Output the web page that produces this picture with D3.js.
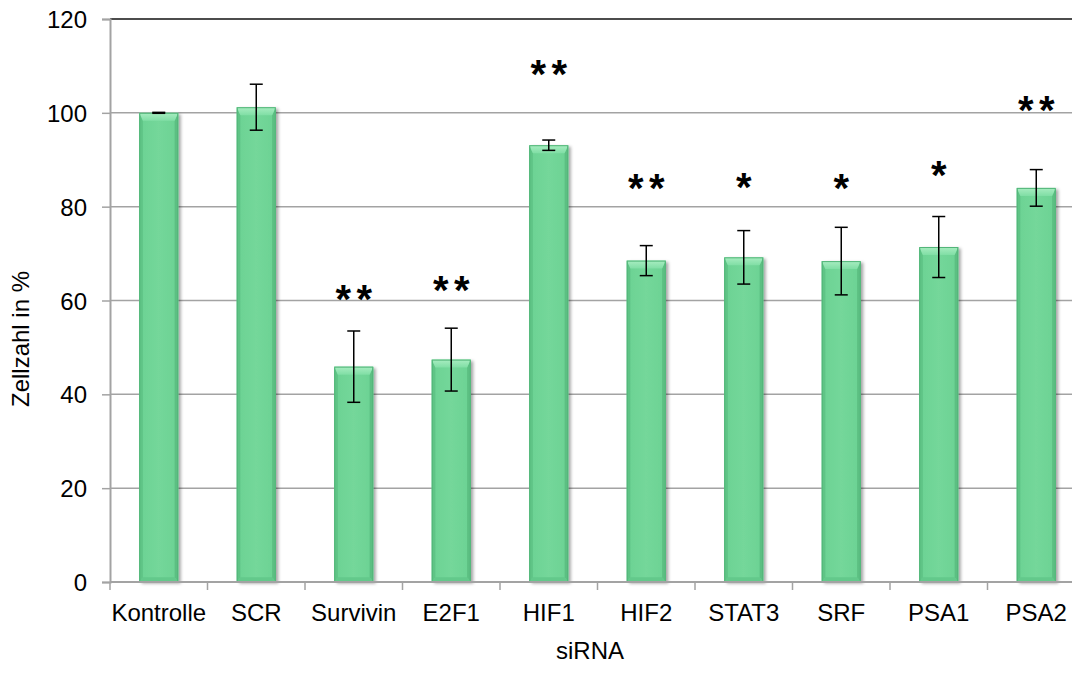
<!DOCTYPE html>
<html>
<head>
<meta charset="utf-8">
<script src="https://cdn.jsdelivr.net/npm/d3@7/dist/d3.min.js"></script>
<style>
  html, body { margin: 0; padding: 0; background: #fff; }
  svg { display: block; }
  text { font-family: "Liberation Sans", Arial, sans-serif; fill: #000; }
</style>
</head>
<body>
<svg id="chart" width="1072" height="677"></svg>
<script>
// siRNA knockdown: relative cell count (%) with SD error bars and significance marks
const categories = ["Kontrolle", "SCR", "Survivin", "E2F1", "HIF1", "HIF2", "STAT3", "SRF", "PSA1", "PSA2"];
const cellCount  = [100, 101.2, 45.9, 47.4, 93.1, 68.5, 69.2, 68.4, 71.4, 84.0];
const errorSD    = [0.1, 4.9, 7.6, 6.7, 1.1, 3.2, 5.7, 7.2, 6.5, 3.9];
const significance = ["", "", "**", "**", "**", "**", "*", "*", "*", "**"];
// height (in % units) at which each significance mark is set
const markLevel  = [null, null, 61.4, 63.3, 109.2, 85.1, 85.3, 84.9, 87.8, 101.7];
const yTicks = [0, 20, 40, 60, 80, 100, 120];
const xTitle = "siRNA";
const yTitle = "Zellzahl in %";

const FONT = "'Liberation Sans', Arial, sans-serif";
const svg = d3.select("#chart");
const plot = { left: 110, right: 1085, top: 19, bottom: 582 };

const x = d3.scaleBand()
  .domain(categories)
  .range([plot.left, plot.right])
  .paddingInner(0.6)
  .paddingOuter(0.3);

const y = d3.scaleLinear()
  .domain([0, 120])
  .range([plot.bottom, plot.top]);

// definitions: shadow and bevel gradients for the bars
const defs = svg.append("defs");
const shadow = defs.append("filter").attr("id", "barShadow")
  .attr("x", "-20%").attr("y", "-5%").attr("width", "150%").attr("height", "115%");
shadow.append("feDropShadow")
  .attr("dx", 2.5).attr("dy", 1.5).attr("stdDeviation", 1.6)
  .attr("flood-color", "#000").attr("flood-opacity", 0.35);

const bodyGrad = defs.append("linearGradient").attr("id", "barBody")
  .attr("x1", "0%").attr("x2", "100%").attr("y1", "0%").attr("y2", "0%");
bodyGrad.append("stop").attr("offset", "0%").attr("stop-color", "#6bd293");
bodyGrad.append("stop").attr("offset", "50%").attr("stop-color", "#74d79a");
bodyGrad.append("stop").attr("offset", "100%").attr("stop-color", "#6bd293");

const topGrad = defs.append("linearGradient").attr("id", "barTop")
  .attr("x1", "0%").attr("x2", "0%").attr("y1", "0%").attr("y2", "100%");
topGrad.append("stop").attr("offset", "0%").attr("stop-color", "#a8edc1");
topGrad.append("stop").attr("offset", "100%").attr("stop-color", "#80dea5");

// gridlines
svg.append("g")
  .selectAll("line")
  .data(yTicks.filter(t => t > 0 && t < 120))
  .join("line")
  .attr("x1", plot.left).attr("x2", plot.right)
  .attr("y1", d => y(d)).attr("y2", d => y(d))
  .attr("stroke", "#a3a3a3").attr("stroke-width", 1.5);

// top border of the plot area
svg.append("line")
  .attr("x1", plot.left).attr("x2", plot.right)
  .attr("y1", y(120)).attr("y2", y(120))
  .attr("stroke", "#111").attr("stroke-width", 1.5);

// y axis
const yAxis = svg.append("g")
  .attr("transform", `translate(${plot.left},0)`)
  .call(d3.axisLeft(y).tickValues(yTicks).tickSize(8).tickPadding(15));
yAxis.select(".domain").attr("stroke", "#a3a3a3").attr("stroke-width", 2);
yAxis.selectAll(".tick line").attr("stroke", "#a3a3a3").attr("stroke-width", 1.5);
yAxis.selectAll(".tick text")
  .style("font-family", FONT).style("font-size", "24px").attr("fill", "#000")
  .attr("dy", "0.36em");

// x axis: category labels, ticks sit between categories
const xAxis = svg.append("g")
  .attr("transform", `translate(0,${plot.bottom})`)
  .call(d3.axisBottom(x).tickSize(0).tickPadding(22));
xAxis.select(".domain").remove();
xAxis.selectAll(".tick text")
  .style("font-family", FONT).style("font-size", "24px").attr("fill", "#000");

const step = x.step();
const boundaries = d3.range(categories.length + 1).map(i => plot.left + i * step);

// bars with bevelled edges
const bevel = 8;
const bars = svg.append("g").selectAll("g")
  .data(categories.map((c, i) => ({ c, v: cellCount[i], e: errorSD[i], s: significance[i], m: markLevel[i] })))
  .join("g");

bars.append("rect")
  .attr("x", d => x(d.c)).attr("y", d => y(d.v))
  .attr("width", x.bandwidth()).attr("height", d => y(0) - y(d.v))
  .attr("fill", "url(#barBody)")
  .attr("filter", "url(#barShadow)");

// left and right bevel strips
bars.append("path")
  .attr("d", d => {
    const x0 = x(d.c), y0 = y(d.v), y1 = y(0);
    return `M${x0},${y0} L${x0 + bevel * 0.45},${y0 + bevel} L${x0 + bevel * 0.45},${y1 - bevel * 0.6} L${x0},${y1} Z`;
  })
  .attr("fill", "#5fc486");
bars.append("path")
  .attr("d", d => {
    const x1 = x(d.c) + x.bandwidth(), y0 = y(d.v), y1 = y(0);
    return `M${x1},${y0} L${x1 - bevel * 0.45},${y0 + bevel} L${x1 - bevel * 0.45},${y1 - bevel * 0.6} L${x1},${y1} Z`;
  })
  .attr("fill", "#5cbf82");
// bottom bevel
bars.append("path")
  .attr("d", d => {
    const x0 = x(d.c), x1 = x0 + x.bandwidth(), y1 = y(0);
    return `M${x0},${y1} L${x0 + bevel * 0.45},${y1 - bevel * 0.6} L${x1 - bevel * 0.45},${y1 - bevel * 0.6} L${x1},${y1} Z`;
  })
  .attr("fill", "#63c98b");
// top bevel
bars.append("path")
  .attr("d", d => {
    const x0 = x(d.c), x1 = x0 + x.bandwidth(), y0 = y(d.v);
    return `M${x0},${y0} L${x1},${y0} L${x1 - bevel * 0.45},${y0 + bevel} L${x0 + bevel * 0.45},${y0 + bevel} Z`;
  })
  .attr("fill", "url(#barTop)");
// thin outline
bars.append("rect")
  .attr("x", d => x(d.c) + 0.5).attr("y", d => y(d.v) + 0.5)
  .attr("width", x.bandwidth() - 1).attr("height", d => y(0) - y(d.v) - 1)
  .attr("fill", "none").attr("stroke", "#52b578").attr("stroke-width", 1);

// x axis line and boundary ticks drawn over the bar bases
svg.append("line")
  .attr("x1", plot.left).attr("x2", plot.right)
  .attr("y1", plot.bottom).attr("y2", plot.bottom)
  .attr("stroke", "#a3a3a3").attr("stroke-width", 2);
svg.append("g").selectAll("line")
  .data(boundaries)
  .join("line")
  .attr("x1", d => d).attr("x2", d => d)
  .attr("y1", plot.bottom).attr("y2", plot.bottom + 8)
  .attr("stroke", "#a3a3a3").attr("stroke-width", 1.5);

// error bars
const cap = 6.5;
const err = svg.append("g").selectAll("g").data(bars.data()).join("g")
  .attr("stroke", "#000").attr("stroke-width", 1.5);
err.append("line")
  .attr("x1", d => x(d.c) + x.bandwidth() / 2).attr("x2", d => x(d.c) + x.bandwidth() / 2)
  .attr("y1", d => y(d.v + d.e)).attr("y2", d => y(d.v - d.e));
err.append("line")
  .attr("x1", d => x(d.c) + x.bandwidth() / 2 - cap).attr("x2", d => x(d.c) + x.bandwidth() / 2 + cap)
  .attr("y1", d => y(d.v + d.e)).attr("y2", d => y(d.v + d.e));
err.append("line")
  .attr("x1", d => x(d.c) + x.bandwidth() / 2 - cap).attr("x2", d => x(d.c) + x.bandwidth() / 2 + cap)
  .attr("y1", d => y(d.v - d.e)).attr("y2", d => y(d.v - d.e));

// significance asterisks
const starGap = 21;
const starSize = 40;
const marks = svg.append("g");
bars.data().forEach(d => {
  if (!d.s) return;
  const n = d.s.length;
  const cx = x(d.c) + x.bandwidth() / 2;
  for (let i = 0; i < n; i++) {
    marks.append("text")
      .attr("x", cx + (i - (n - 1) / 2) * starGap)
      .attr("y", y(d.m) + starSize * 0.47)
      .attr("text-anchor", "middle")
      .attr("font-size", starSize)
      .attr("font-weight", "bold")
      .text("*");
  }
});

// axis titles
svg.append("text")
  .attr("x", 590).attr("y", 659)
  .attr("text-anchor", "middle").attr("font-size", 24)
  .text(xTitle);
svg.append("text")
  .attr("transform", "translate(29,339) rotate(-90)")
  .attr("text-anchor", "middle").attr("font-size", 24)
  .text(yTitle);
</script>
</body>
</html>
